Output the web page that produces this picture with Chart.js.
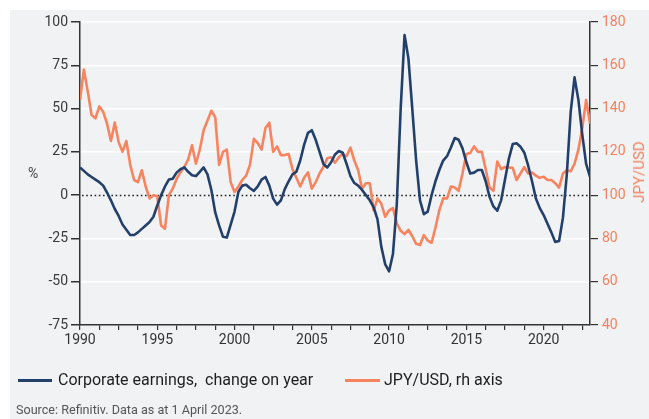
<!DOCTYPE html>
<html><head><meta charset="utf-8">
<script src="https://cdn.jsdelivr.net/npm/chart.js@4"></script>
<style>
html,body{margin:0;padding:0;background:#fff;}
#wrap{position:relative;width:649px;height:419px;overflow:hidden;font-family:Roboto,"Noto Sans",sans-serif;}
canvas{position:absolute;left:0;top:0;}
.lbl{position:absolute;white-space:nowrap;}
</style></head><body>
<div id="wrap">
<canvas id="c" width="649" height="419"></canvas>
<div class="lbl" style="left:28px;top:164px;font-size:14px;line-height:18px;color:#444">%</div>
<div class="lbl" style="left:639px;top:172px;font-size:15px;line-height:18px;color:#f4825e;transform:translate(-50%,-50%) rotate(-90deg)">JPY/USD</div>
<div class="lbl" style="left:18px;top:379px;width:34px;height:3px;background:#23406b"></div>
<div class="lbl" style="left:58px;top:370px;font-size:16px;line-height:20px;color:#1e1e1e">Corporate earnings,&nbsp; change on year</div>
<div class="lbl" style="left:345px;top:379px;width:35px;height:3px;background:#f8845f"></div>
<div class="lbl" style="left:384px;top:370px;font-size:16px;line-height:20px;color:#1e1e1e">JPY/USD, rh axis</div>
<div class="lbl" style="left:16px;top:402px;font-size:12.6px;line-height:16px;color:#555">Source: Refinitiv. Data as at 1 April 2023.</div>
</div>
<script>
const startYear = 1990;
const seriesNames = ['Corporate earnings,  change on year', 'JPY/USD, rh axis'];
const earnings = [
  16, 14, 12, 10.5, 9, 7.5, 5.5, 1.5, -3, -8,
  -12, -17, -20, -23, -23, -21.5, -19.5, -17.5, -15.5, -12.5,
  -6, 0, 5, 9, 9.5, 13, 15, 16, 13.5, 11.5,
  11, 13.5, 16, 12, 3, -10, -17.5, -24, -24.5, -17,
  -9.5, 2, 5.5, 6, 4, 2.5, 5, 9, 10.5, 5.5,
  -2, -5.5, -3, 3.5, 8, 12, 13.5, 20, 29, 36,
  37.5, 32, 25, 18, 16, 19, 23.5, 25.5, 24.5, 18,
  11, 7, 5.5, 3, 0, -3, -7, -14, -30, -40,
  -44, -34, -5, 50, 92.5, 79, 50, 20, -3, -11,
  -9.5, 0, 8, 14.5, 20, 22.5, 27.5, 33, 32, 27,
  19, 12.5, 13, 14.5, 14.5, 8, -1, -6.5, -9, -3,
  9, 21, 29.5, 30, 28, 24.5, 17, 8, -2, -7.5,
  -11.5, -16.5, -21.5, -27, -26.5, -13, 12, 48, 68, 55,
  35, 18, 10.5
];
const jpyusd = [
  144, 158, 148, 137, 135.5, 141, 138.5, 133, 125, 133.5,
  124.5, 120, 125, 114, 107, 106, 111.5, 104, 98.5, 100,
  99.5, 86, 84.5, 100, 103, 107.5, 110.5, 113, 116.5, 123,
  114.5, 121, 130, 134.5, 139, 136, 114, 120, 121, 106,
  101.5, 104, 107, 109, 114, 126, 124, 121, 131, 133.5,
  120, 122.5, 118.5, 118.5, 119, 112, 108, 104, 108, 110.5,
  103, 106, 110, 113, 117, 117.5, 115, 117.5, 119, 118,
  122, 116, 111.5, 103, 105.5, 105.5, 93, 98.5, 96, 90,
  93, 94, 87, 83.5, 82, 84, 81, 77.5, 77, 81.5,
  79, 78, 85, 93, 98.5, 98.5, 104, 103.5, 102, 110,
  119, 119.5, 122.5, 120, 120, 112, 103.5, 102, 115.5, 112,
  113, 112.8, 112.6, 107, 110, 113, 110, 110.5, 109, 108,
  108.5, 107, 107, 105.5, 103.5, 110, 111.5, 111, 114.5, 121,
  131, 144, 133
];
const quarterDates = earnings.map((_, i) => startYear + i / 4);
const xTickValues = [];
for (let v = 1990; v <= 2023; v += 1.25) xTickValues.push(v);
const leftTicks = [-75, -50, -25, 0, 25, 50, 75, 100];
const rightTicks = [40, 60, 80, 100, 120, 140, 160, 180];

const navy = '#23406b';
const orange = '#f8845f';
const orangeText = '#f4825e';
const tickFont = {family: 'Roboto, "Noto Sans", sans-serif', size: 14};

const bgPlugin = {
  id: 'bg',
  beforeDraw(chart) {
    const ctx = chart.ctx;
    ctx.save();
    ctx.fillStyle = '#ffffff';
    ctx.fillRect(0, 0, chart.width, chart.height);
    ctx.fillStyle = '#f1f2f4';
    ctx.fillRect(10, 10, chart.width - 10, chart.height - 10);
    ctx.restore();
  }
};
const zeroPlugin = {
  id: 'zero',
  beforeDatasetsDraw(chart) {
    const ctx = chart.ctx, a = chart.chartArea;
    const y0 = Math.round(chart.scales.y.getPixelForValue(0)) + 0.5;
    ctx.save();
    ctx.strokeStyle = '#222';
    ctx.lineWidth = 1.6;
    ctx.setLineDash([1.6, 2.6]);
    ctx.beginPath();
    ctx.moveTo(a.left + 2, y0);
    ctx.lineTo(a.right, y0);
    ctx.stroke();
    ctx.restore();
  }
};

new Chart(document.getElementById('c'), {
  type: 'line',
  data: {
    datasets: [
      {label: seriesNames[0], data: earnings.map((v, i) => ({x: quarterDates[i], y: v})),
       borderColor: navy, borderWidth: 2.6, pointRadius: 0, tension: 0, yAxisID: 'y', borderJoinStyle: 'round'},
      {label: seriesNames[1], data: jpyusd.map((v, i) => ({x: quarterDates[i], y: v})),
       borderColor: orange, borderWidth: 2.6, pointRadius: 0, tension: 0, yAxisID: 'y2', borderJoinStyle: 'round'}
    ]
  },
  options: {
    responsive: false, animation: false, devicePixelRatio: 1, events: [],
    layout: {padding: {left: 0, right: 0, top: 22, bottom: 0}},
    plugins: {legend: {display: false}, tooltip: {enabled: false}},
    scales: {
      x: {
        type: 'linear', min: 1990, max: 2023,
        afterBuildTicks: s => { s.ticks = xTickValues.map(v => ({value: v})); },
        ticks: {autoSkip: false, maxRotation: 0, color: '#333', font: tickFont, padding: 2,
                callback: v => (Math.abs(v % 5) < 1e-9 ? String(v) : '')},
        grid: {drawOnChartArea: false, tickLength: 5, tickColor: '#333', lineWidth: 1.2},
        border: {color: '#333', width: 1.5},
        afterFit: s => { s.height = 94; }
      },
      y: {
        position: 'left', min: -75, max: 100,
        afterBuildTicks: s => { s.ticks = leftTicks.map(v => ({value: v})); },
        ticks: {color: '#3a3a3a', font: tickFont, padding: 3},
        grid: {color: c => (c.tick && (c.tick.value === 0 || c.tick.value === -75)) ? 'rgba(0,0,0,0)' : '#ffffff',
               lineWidth: 1.5, tickColor: '#333', tickLength: 9},
        border: {color: '#333', width: 1.5},
        afterFit: s => { s.width = 80; }
      },
      y2: {
        position: 'right', min: 40, max: 180,
        afterBuildTicks: s => { s.ticks = rightTicks.map(v => ({value: v})); },
        ticks: {color: orangeText, font: tickFont, padding: 4},
        grid: {drawOnChartArea: false, tickColor: '#333', tickLength: 8, lineWidth: 1.2},
        border: {color: '#333', width: 1.5},
        afterFit: s => { s.width = 59; }
      }
    }
  },
  plugins: [bgPlugin, zeroPlugin]
});
</script>
</body></html>
